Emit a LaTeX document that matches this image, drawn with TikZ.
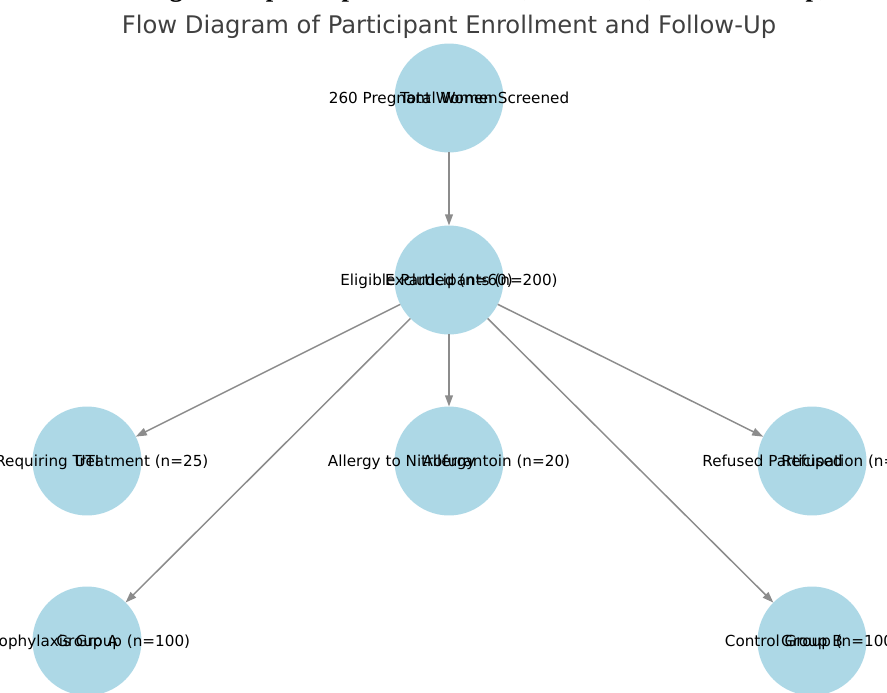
\documentclass[tikz,border=0pt]{standalone}
\usepackage{fontspec}
\setmainfont{DejaVu Sans}
\newfontfamily\capserif{Liberation Serif}
\usetikzlibrary{arrows.meta}
\definecolor{nodeblue}{HTML}{ADD8E6}
\definecolor{edgegray}{HTML}{8C8C8C}

\begin{document}
\begin{tikzpicture}[x=0.02cm, y=-0.02cm,
    circ/.style={circle, fill=nodeblue, draw=none, minimum size=2.18cm, inner sep=0pt, outer sep=0pt},
    lbl/.style={font=\fontsize{8.65}{10}\selectfont, text=black, inner sep=0pt, text height=1.6ex, text depth=0.4ex},
    flow/.style={-{Triangle[length=6.3pt,width=4.4pt]}, draw=edgegray, line width=0.85pt}]
    \useasboundingbox (0,0) rectangle (887,693);

    % cut-off caption and title
    \node[anchor=base, inner sep=0pt, font=\capserif\bfseries\fontsize{15.2}{17}\selectfont] (caption) at (449,-4)
        {Flow diagram of participant enrollment, allocation, and follow-up,};
    \node[anchor=base, inner sep=0pt, text=black!75, font=\fontsize{13.8}{16}\selectfont] (title) at (449,33)
        {Flow Diagram of Participant Enrollment and Follow-Up};

    % circles
    \node[circ] (total) at (449,98) {};
    \node[circ] (elig) at (449,280) {};
    \node[circ] (uti) at (87,461) {};
    \node[circ] (allergy) at (449,461) {};
    \node[circ] (refused) at (812,461) {};
    \node[circ] (grpA) at (87,641) {};
    \node[circ] (grpB) at (812,641) {};

    % labels (two texts on each circle)
    \node[lbl] (totalL) at (total) {260 Pregnant Women Screened};
    \node[lbl] (totalN) at (total) {Total Women};
    \node[lbl] (eligL) at (elig) {Eligible Participants (n=200)};
    \node[lbl] (eligN) at (elig) {Excluded (n=60)};
    \node[lbl] (utiL) at (uti) {UTI Requiring Treatment (n=25)};
    \node[lbl] (utiN) at (uti) {UTI};
    \node[lbl] (allergyL) at (allergy) {Allergy to Nitrofurantoin (n=20)};
    \node[lbl] (allergyN) at (allergy) {Allergy};
    \node[lbl] (refusedL) at (refused) {Refused Participation (n=15)};
    \node[lbl] (refusedN) at (refused) {Refused};
    \node[lbl] (grpAL) at (grpA) {Prophylaxis Group (n=100)};
    \node[lbl] (grpAN) at (grpA) {Group A};
    \node[lbl] (grpBL) at (grpB) {Control Group (n=100)};
    \node[lbl] (grpBN) at (grpB) {Group B};

    % arrows
    \draw[flow] (total) -- (elig);
    \draw[flow] (elig) -- (uti);
    \draw[flow] (elig) -- (allergy);
    \draw[flow] (elig) -- (refused);
    \draw[flow] (elig) -- (grpA);
    \draw[flow] (elig) -- (grpB);
\end{tikzpicture}
\end{document}
